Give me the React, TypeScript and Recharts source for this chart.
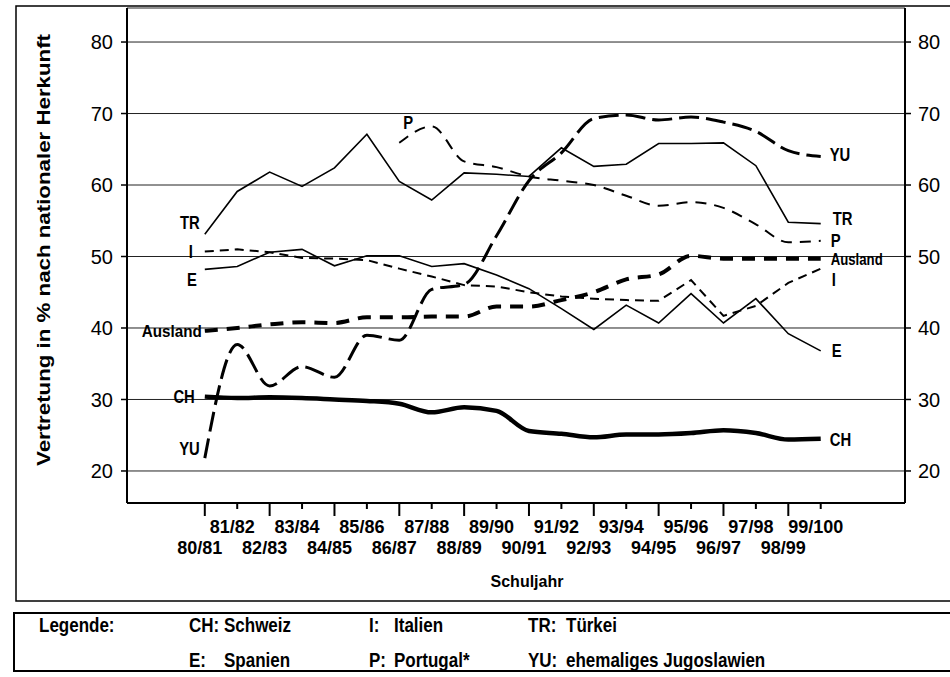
import React from 'react';
import { LineChart, Line, XAxis, YAxis, CartesianGrid } from 'recharts';

const schoolYears = ['80/81', '81/82', '82/83', '83/84', '84/85', '85/86', '86/87', '87/88', '88/89', '89/90',
  '90/91', '91/92', '92/93', '93/94', '94/95', '95/96', '96/97', '97/98', '98/99', '99/100'];

const CH = [30.4, 30.2, 30.3, 30.2, 30.0, 29.8, 29.4, 28.2, 28.9, 28.4, 25.6, 25.2, 24.7, 25.1, 25.1, 25.3, 25.7, 25.3, 24.4, 24.5];
const E = [48.2, 48.6, 50.6, 51.0, 48.7, 50.1, 50.1, 48.6, 49.0, 47.4, 45.5, 42.7, 39.8, 43.2, 40.7, 44.8, 40.7, 44.1, 39.2, 36.8];
const I = [50.7, 51.0, 50.6, 49.8, 49.7, 49.5, 48.3, 47.2, 46.0, 45.8, 45.0, 44.4, 44.1, 43.9, 43.8, 46.7, 41.7, 43.1, 46.3, 48.3];
const P = [null, null, null, null, null, null, 65.9, 68.2, 63.3, 62.5, 61.2, 60.6, 60.0, 58.5, 57.1, 57.6, 56.8, 54.5, 52.0, 52.2];
const TR = [53.1, 59.1, 61.8, 59.8, 62.4, 67.1, 60.5, 57.9, 61.7, 61.5, 61.2, 65.2, 62.6, 62.9, 65.8, 65.8, 65.9, 62.7, 54.8, 54.6];
const YU = [21.8, 37.7, 31.9, 34.6, 33.1, 39.0, 38.3, 45.4, 46.1, 52.9, 60.6, 64.5, 69.3, 69.8, 69.1, 69.5, 68.8, 67.5, 64.8, 64.0];
const Ausland = [39.6, 40.0, 40.5, 40.8, 40.7, 41.5, 41.5, 41.6, 41.6, 43.0, 43.0, 43.9, 45.0, 46.8, 47.5, 50.1, 49.7, 49.7, 49.7, 49.7];

const yTicks = [20, 30, 40, 50, 60, 70, 80];
const xTicks = schoolYears.map((_, i) => i);

const legendRow1 = [
  { t: 'Legende:', x: 39 },
  { t: 'CH:', x: 189 },
  { t: 'Schweiz', x: 224 },
  { t: 'I:', x: 369 },
  { t: 'Italien', x: 394 },
  { t: 'TR:', x: 528 },
  { t: 'Türkei', x: 566 },
];
const legendRow2 = [
  { t: 'E:', x: 189 },
  { t: 'Spanien', x: 224 },
  { t: 'P:', x: 369 },
  { t: 'Portugal*', x: 394 },
  { t: 'YU:', x: 528 },
  { t: 'ehemaliges Jugoslawien', x: 566 },
];

const data = schoolYears.map((year, i) => ({
  idx: i,
  year,
  CH: CH[i],
  E: E[i],
  I: I[i],
  P: P[i],
  TR: TR[i],
  YU: YU[i],
  Ausland: Ausland[i],
}));

const FONT = "'Liberation Sans', Arial, Helvetica, sans-serif";

const XTick = (props: any) => {
  const { x, y, payload } = props;
  const i = payload.value as number;
  const even = i % 2 === 0;
  return (
    <g>
      <line x1={x} y1={y} x2={x} y2={y + (even ? 13 : 6)} stroke="#000" strokeWidth={2} />
      <text
        x={x - 5}
        y={y + (even ? 45 : 24)}
        textAnchor="middle"
        dominantBaseline="central"
        fontSize={18}
        fontWeight="bold"
        fontFamily={FONT}
        fill="#000"
      >
        {schoolYears[i]}
      </text>
    </g>
  );
};

type Spec = { text: string; dx: number; dy: number; anchor: 'start' | 'end'; len?: number };

const makeDot = (first: number, last: number, left: Spec, right: Spec) => (props: any) => {
  const { cx, cy, index } = props;
  const spec = index === first ? left : index === last ? right : null;
  if (!spec || cx == null || cy == null || isNaN(cx) || isNaN(cy)) return <g key={`d${index}`} />;
  if (spec.len) {
    return (
      <text
        key={`d${index}`}
        x={cx + spec.dx}
        y={cy + spec.dy}
        textAnchor={spec.anchor}
        dominantBaseline="central"
        fontSize={17}
        fontWeight="bold"
        fontFamily={FONT}
        fill="#000"
        textLength={spec.len}
        lengthAdjust="spacingAndGlyphs"
      >
        {spec.text}
      </text>
    );
  }
  return (
    <text
      key={`d${index}`}
      transform={`translate(${cx + spec.dx},${cy + spec.dy}) scale(0.78,1)`}
      textAnchor={spec.anchor}
      dominantBaseline="central"
      fontSize={19}
      fontWeight="bold"
      fontFamily={FONT}
      fill="#000"
    >
      {spec.text}
    </text>
  );
};

const LAST = schoolYears.length - 1;

export default function App() {
  return (
    <div style={{ position: 'absolute', left: 0, top: 0, width: 950, height: 677, background: '#fff' }}>
      <LineChart width={950} height={677} data={data} margin={{ top: 8, right: 0, bottom: 104, left: 67 }}>
        <CartesianGrid vertical={false} stroke="#222" strokeWidth={1} />
        <XAxis
          dataKey="idx"
          type="number"
          domain={[-2.4, 21.6]}
          ticks={xTicks}
          interval={0}
          allowDataOverflow
          height={70}
          tickSize={0}
          tickMargin={0}
          tickLine={false}
          axisLine={{ stroke: '#000', strokeWidth: 2 }}
          tick={<XTick />}
        />
        <YAxis
          type="number"
          domain={[15.52, 84.76]}
          ticks={yTicks}
          allowDataOverflow
          width={60}
          tickSize={6}
          tickMargin={8}
          axisLine={{ stroke: '#000', strokeWidth: 2 }}
          tickLine={{ stroke: '#000', strokeWidth: 1.5 }}
          tick={{ fontSize: 20, fill: '#000', fontFamily: FONT }}
        />
        <YAxis
          yAxisId="right"
          orientation="right"
          type="number"
          domain={[15.52, 84.76]}
          ticks={yTicks}
          allowDataOverflow
          width={45}
          tickSize={6}
          tickMargin={7}
          axisLine={{ stroke: '#000', strokeWidth: 2 }}
          tickLine={{ stroke: '#000', strokeWidth: 1.5 }}
          tick={{ fontSize: 20, fill: '#000', fontFamily: FONT, textAnchor: 'start' }}
        />
        <Line
          dataKey="CH"
          type="monotone"
          stroke="#000"
          strokeWidth={4.5}
          isAnimationActive={false}
          dot={makeDot(0, LAST, { text: 'CH', dx: -10, dy: 0, anchor: 'end' }, { text: 'CH', dx: 9, dy: 1, anchor: 'start' })}
          activeDot={false}
        />
        <Line
          dataKey="E"
          type="linear"
          stroke="#000"
          strokeWidth={1.6}
          isAnimationActive={false}
          dot={makeDot(0, LAST, { text: 'E', dx: -8, dy: 10, anchor: 'end' }, { text: 'E', dx: 11, dy: 0, anchor: 'start' })}
          activeDot={false}
        />
        <Line
          dataKey="I"
          type="linear"
          stroke="#000"
          strokeWidth={2}
          strokeDasharray="9 6"
          isAnimationActive={false}
          dot={makeDot(0, LAST, { text: 'I', dx: -12, dy: 0, anchor: 'end' }, { text: 'I', dx: 11, dy: 11, anchor: 'start' })}
          activeDot={false}
        />
        <Line
          dataKey="P"
          type="monotone"
          stroke="#000"
          strokeWidth={2}
          strokeDasharray="11 8"
          isAnimationActive={false}
          connectNulls={false}
          dot={makeDot(6, LAST, { text: 'P', dx: 4, dy: -20, anchor: 'start' }, { text: 'P', dx: 10, dy: 0, anchor: 'start' })}
          activeDot={false}
        />
        <Line
          dataKey="TR"
          type="linear"
          stroke="#000"
          strokeWidth={1.6}
          isAnimationActive={false}
          dot={makeDot(0, LAST, { text: 'TR', dx: -5, dy: -11, anchor: 'end' }, { text: 'TR', dx: 12, dy: -5, anchor: 'start' })}
          activeDot={false}
        />
        <Line
          dataKey="YU"
          type="monotone"
          stroke="#000"
          strokeWidth={3}
          strokeDasharray="20 7"
          isAnimationActive={false}
          dot={makeDot(0, LAST, { text: 'YU', dx: -5, dy: -9, anchor: 'end' }, { text: 'YU', dx: 9, dy: -2, anchor: 'start' })}
          activeDot={false}
        />
        <Line
          dataKey="Ausland"
          type="monotone"
          stroke="#000"
          strokeWidth={4}
          strokeDasharray="13 9"
          isAnimationActive={false}
          dot={makeDot(
            0,
            LAST,
            { text: 'Ausland', dx: -3, dy: 1, anchor: 'end', len: 60 },
            { text: 'Ausland', dx: 10, dy: 1, anchor: 'start', len: 52 }
          )}
          activeDot={false}
        />
      </LineChart>
      <svg
        width={950}
        height={677}
        style={{ position: 'absolute', left: 0, top: 0, pointerEvents: 'none' }}
      >
        <rect x={16} y={6} width={1000} height={595} fill="none" stroke="#000" strokeWidth={1.5} />
        <text
          transform="translate(43,250) rotate(-90)"
          textAnchor="middle"
          dominantBaseline="central"
          fontSize={19}
          fontWeight="bold"
          fontFamily={FONT}
          fill="#000"
          textLength={432}
          lengthAdjust="spacingAndGlyphs"
        >
          Vertretung in % nach nationaler Herkunft
        </text>
        <text x={527} y={581} textAnchor="middle" dominantBaseline="central" fontSize={16} fontWeight="bold" fontFamily={FONT} fill="#000">
          Schuljahr
        </text>
        <rect x={14} y={613} width={1000} height={58} fill="none" stroke="#000" strokeWidth={2} />
        <g fontSize={20} fontWeight="bold" fontFamily={FONT} fill="#000">
          {legendRow1.map((d) => (
            <text key={d.t} transform={`translate(${d.x},632) scale(0.85,1)`}>
              {d.t}
            </text>
          ))}
          {legendRow2.map((d) => (
            <text key={d.t} transform={`translate(${d.x},667) scale(0.85,1)`}>
              {d.t}
            </text>
          ))}
        </g>
      </svg>
    </div>
  );
}
